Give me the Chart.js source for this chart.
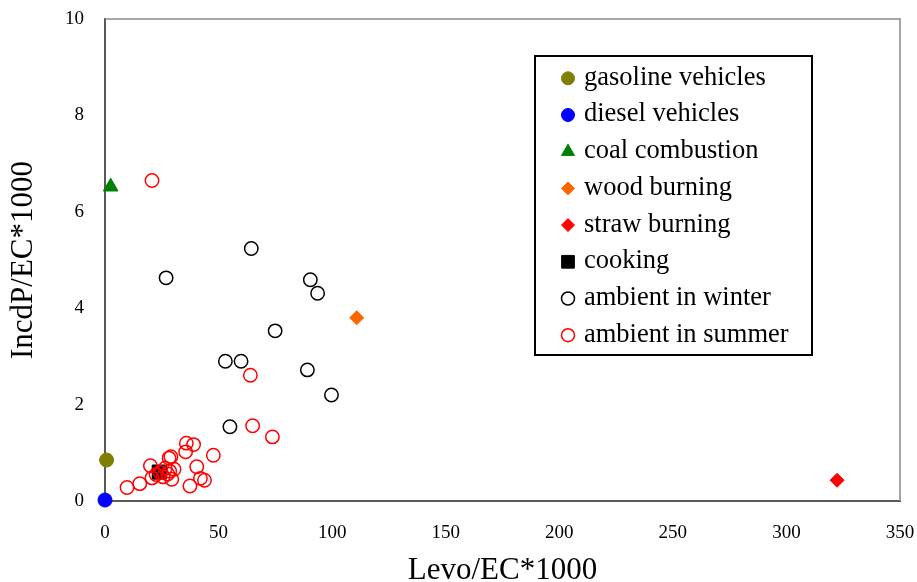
<!DOCTYPE html>
<html>
<head>
<meta charset="utf-8">
<script src="https://cdn.jsdelivr.net/npm/chart.js@4.4.1/dist/chart.umd.min.js"></script>
<style>
html,body{margin:0;padding:0;background:#fff;}
#wrap{width:917px;height:582px;position:relative;}
</style>
</head>
<body>
<div id="wrap"><canvas id="c" width="917" height="582"></canvas></div>
<script>
// ---- data ----
const seriesNames = ['gasoline vehicles','diesel vehicles','coal combustion','wood burning','straw burning','cooking','ambient in winter','ambient in summer'];
const xTicks = [0,50,100,150,200,250,300,350];
const yTicks = [0,2,4,6,8,10];

const gasolineX = [0.7];   const gasolineY = [0.85];
const dieselX   = [0.0];   const dieselY   = [0.02];
const coalX     = [2.5];   const coalY     = [6.52];
const woodX     = [110.8]; const woodY     = [3.80];
const strawX    = [322.3]; const strawY    = [0.43];
const cookingX  = [23.9];  const cookingY  = [0.60];

const winterX = [64.4, 26.9, 90.4, 93.6, 74.9, 53.0, 59.9, 89.1, 99.7, 55.0];
const winterY = [5.24, 4.63, 4.59, 4.31, 3.53, 2.90, 2.90, 2.72, 2.20, 1.54];

const summerX = [20.7, 64.0, 65.0, 73.7, 47.7, 35.8, 39.0, 35.5, 40.4, 42.0, 43.8, 37.4, 9.7, 15.3, 20.0, 20.7, 28.2, 29.0, 30.4, 29.4, 27.6, 24.2, 25.6, 22.5, 26.5, 28.5];
const summerY = [6.65, 2.61, 1.56, 1.33, 0.95, 1.20, 1.17, 1.02, 0.71, 0.47, 0.43, 0.31, 0.28, 0.36, 0.73, 0.48, 0.89, 0.92, 0.66, 0.45, 0.56, 0.59, 0.50, 0.55, 0.68, 0.62];

// ---- build ----
function pts(xs, ys){ return xs.map((x,i)=>({x:x, y:ys[i]})); }

const styles = [
  {pointStyle:'circle',   radius:7,   bg:'#808000', bc:'#808000', bw:1,   lr:6.5},
  {pointStyle:'circle',   radius:7,   bg:'#0000FF', bc:'#0000FF', bw:1,   lr:6.5},
  {pointStyle:'triangle', radius:8.5, bg:'#008000', bc:'#008000', bw:1,   lr:7.5},
  {pointStyle:'rectRot',  radius:7,   bg:'#FF6600', bc:'#FF6600', bw:1,   lr:6.5},
  {pointStyle:'rectRot',  radius:7,   bg:'#FF0000', bc:'#FF0000', bw:1,   lr:6.5},
  {pointStyle:'rect',     radius:10,  bg:'#000000', bc:'#000000', bw:1,   lr:9},
  {pointStyle:'circle',   radius:6.7, bg:'rgba(0,0,0,0)', bc:'#000000', bw:1.5, lr:6.5},
  {pointStyle:'circle',   radius:6.7, bg:'rgba(0,0,0,0)', bc:'#FF0000', bw:1.5, lr:6.5}
];
const seriesData = [
  pts(gasolineX,gasolineY), pts(dieselX,dieselY), pts(coalX,coalY), pts(woodX,woodY),
  pts(strawX,strawY), pts(cookingX,cookingY), pts(winterX,winterY), pts(summerX,summerY)
];

const datasets = seriesNames.map((name,i)=>({
  label: name,
  data: seriesData[i],
  pointStyle: styles[i].pointStyle,
  pointRadius: styles[i].radius,
  pointBackgroundColor: styles[i].bg,
  pointBorderColor: styles[i].bc,
  pointBorderWidth: styles[i].bw,
  showLine: false,
  clip: false,
  order: seriesNames.length - i
}));

const FONT = "'Liberation Serif','Times New Roman',serif";

const frame = {
  id:'frame',
  beforeDatasetsDraw(chart){
    const {ctx, chartArea:a} = chart;
    ctx.save();
    ctx.strokeStyle = '#8a8a8a';
    ctx.lineWidth = 1.5;
    ctx.beginPath();
    ctx.moveTo(a.left, a.top); ctx.lineTo(a.right, a.top); ctx.lineTo(a.right, a.bottom);
    ctx.stroke();
    ctx.restore();
  }
};

function drawMarker(ctx, st, x, y){
  const opts = {pointStyle: st.pointStyle, radius: st.lr, borderWidth: st.bw, rotation: 0};
  ctx.save();
  ctx.fillStyle = st.bg; ctx.strokeStyle = st.bc; ctx.lineWidth = st.bw;
  if (window.Chart && Chart.helpers && Chart.helpers.drawPoint) {
    Chart.helpers.drawPoint(ctx, opts, x, y);
  } else {
    ctx.beginPath(); ctx.arc(x,y,st.lr,0,Math.PI*2); ctx.fill(); ctx.stroke();
  }
  ctx.restore();
}

const boxLegend = {
  id:'boxLegend',
  afterDraw(chart){
    const ctx = chart.ctx;
    const bx = 535, by = 56, bw = 277, bh = 299;
    ctx.save();
    ctx.fillStyle = '#fff';
    ctx.fillRect(bx, by, bw, bh);
    ctx.strokeStyle = '#000'; ctx.lineWidth = 2;
    ctx.strokeRect(bx, by, bw, bh);
    ctx.font = "26.5px " + FONT;
    ctx.fillStyle = '#000';
    ctx.textBaseline = 'middle';
    ctx.textAlign = 'left';
    seriesNames.forEach((name,i)=>{
      const y = 78.3 + i*36.7;
      drawMarker(ctx, styles[i], 568, y);
      ctx.fillStyle = '#000';
      ctx.fillText(name, 584, y - 0.5);
    });
    ctx.restore();
  }
};

function zeroPad(s){ s.paddingLeft = 0; s.paddingRight = 0; s.paddingTop = 0; s.paddingBottom = 0; }

new Chart(document.getElementById('c'), {
  type: 'scatter',
  data: { datasets },
  options: {
    responsive: false,
    animation: false,
    devicePixelRatio: 1,
    events: [],
    layout: { padding: { top: 19, right: 17, left: 0, bottom: 0 } },
    plugins: { legend: {display:false}, tooltip: {enabled:false} },
    scales: {
      x: {
        type: 'linear', min: 0, max: 350,
        afterBuildTicks: s => { s.ticks = xTicks.map(v=>({value:v})); },
        afterFit: s => { s.height = 81; zeroPad(s); },
        grid: { display: false, drawTicks: false },
        border: { display: true, color: '#595959', width: 2 },
        ticks: { color: '#000', padding: 21, font: { family: FONT, size: 19 } },
        title: { display: true, text: 'Levo/EC*1000', color: '#000',
                 font: { family: FONT, size: 31, lineHeight: 0.75 }, padding: 0 }
      },
      y: {
        type: 'linear', min: 0, max: 10,
        afterBuildTicks: s => { s.ticks = yTicks.map(v=>({value:v})); },
        afterFit: s => { s.width = 105; zeroPad(s); },
        grid: { display: false, drawTicks: false },
        border: { display: true, color: '#595959', width: 2 },
        ticks: { color: '#000', padding: 21, font: { family: FONT, size: 19 } },
        title: { display: true, text: 'IncdP/EC*1000', color: '#000',
                 font: { family: FONT, size: 31, lineHeight: 0.75 }, padding: { top: 12, bottom: 0 } }
      }
    }
  },
  plugins: [frame, boxLegend]
});
</script>
</body>
</html>
